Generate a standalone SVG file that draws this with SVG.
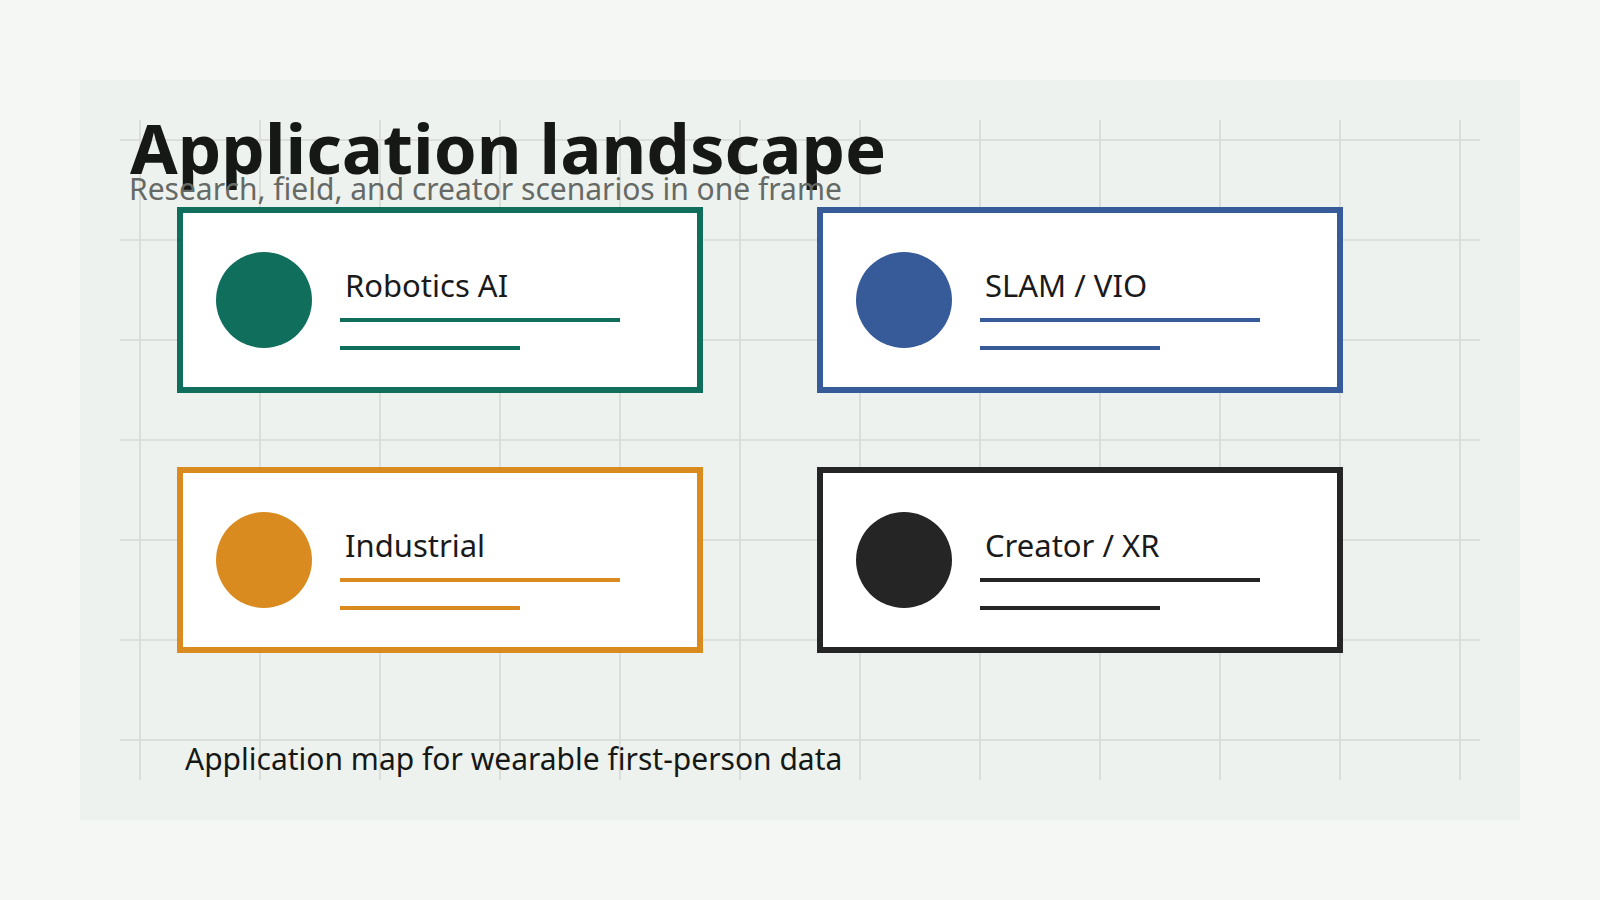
<svg xmlns="http://www.w3.org/2000/svg" width="1600" height="900" viewBox="0 0 1600 900">
  <defs>
    <style>
      .bg { fill: #f5f7f4; }
      .panel { fill: #eef2ee; }
      .grid line { stroke: #dcdedb; stroke-width: 2; }
      .card { fill: #ffffff; stroke-width: 6; }
      .bar { stroke-width: 4; }
      .label { font-family: "Noto Sans", "Open Sans", sans-serif; font-size: 31px; fill: #1a1a1a; }
      .title { font-family: "Noto Sans", "Open Sans", sans-serif; font-size: 69px; font-weight: 700; fill: #161816; }
      .subtitle { font-family: "Noto Sans", "Open Sans", sans-serif; font-size: 30px; fill: #666a66; }
      .footer { font-family: "Noto Sans", "Open Sans", sans-serif; font-size: 30px; fill: #161816; }
    </style>
  </defs>
  <rect class="bg" x="0" y="0" width="1600" height="900"/>
  <rect class="panel" x="80" y="80" width="1440" height="740"/>
  <g class="grid">
    <line x1="140" y1="120" x2="140" y2="780"/>
    <line x1="260" y1="120" x2="260" y2="780"/>
    <line x1="380" y1="120" x2="380" y2="780"/>
    <line x1="500" y1="120" x2="500" y2="780"/>
    <line x1="620" y1="120" x2="620" y2="780"/>
    <line x1="740" y1="120" x2="740" y2="780"/>
    <line x1="860" y1="120" x2="860" y2="780"/>
    <line x1="980" y1="120" x2="980" y2="780"/>
    <line x1="1100" y1="120" x2="1100" y2="780"/>
    <line x1="1220" y1="120" x2="1220" y2="780"/>
    <line x1="1340" y1="120" x2="1340" y2="780"/>
    <line x1="1460" y1="120" x2="1460" y2="780"/>
    <line x1="120" y1="140" x2="1480" y2="140"/>
    <line x1="120" y1="240" x2="1480" y2="240"/>
    <line x1="120" y1="340" x2="1480" y2="340"/>
    <line x1="120" y1="440" x2="1480" y2="440"/>
    <line x1="120" y1="540" x2="1480" y2="540"/>
    <line x1="120" y1="640" x2="1480" y2="640"/>
    <line x1="120" y1="740" x2="1480" y2="740"/>
  </g>
  <text class="title" x="130" y="174">Application landscape</text>
  <text class="subtitle" x="129" y="200">Research, field, and creator scenarios in one frame</text>
  <g id="connectors"></g>
  <g id="robotics-ai">
    <rect class="card" x="180" y="210" width="520" height="180" stroke="#0f6e5c"/>
    <circle cx="264" cy="300" r="48" fill="#0f6e5c"/>
    <text class="label" x="345" y="297">Robotics AI</text>
    <line class="bar" x1="340" y1="320" x2="620" y2="320" stroke="#0f6e5c"/>
    <line class="bar" x1="340" y1="348" x2="520" y2="348" stroke="#0f6e5c"/>
  </g>
  <g id="slam-vio">
    <rect class="card" x="820" y="210" width="520" height="180" stroke="#375a98"/>
    <circle cx="904" cy="300" r="48" fill="#375a98"/>
    <text class="label" x="985" y="297">SLAM / VIO</text>
    <line class="bar" x1="980" y1="320" x2="1260" y2="320" stroke="#375a98"/>
    <line class="bar" x1="980" y1="348" x2="1160" y2="348" stroke="#375a98"/>
  </g>
  <g id="industrial">
    <rect class="card" x="180" y="470" width="520" height="180" stroke="#da8b1f"/>
    <circle cx="264" cy="560" r="48" fill="#da8b1f"/>
    <text class="label" x="345" y="557">Industrial</text>
    <line class="bar" x1="340" y1="580" x2="620" y2="580" stroke="#da8b1f"/>
    <line class="bar" x1="340" y1="608" x2="520" y2="608" stroke="#da8b1f"/>
  </g>
  <g id="creator-xr">
    <rect class="card" x="820" y="470" width="520" height="180" stroke="#252525"/>
    <circle cx="904" cy="560" r="48" fill="#252525"/>
    <text class="label" x="985" y="557">Creator / XR</text>
    <line class="bar" x1="980" y1="580" x2="1260" y2="580" stroke="#252525"/>
    <line class="bar" x1="980" y1="608" x2="1160" y2="608" stroke="#252525"/>
  </g>
  <text class="footer" x="185" y="770">Application map for wearable first-person data</text>
</svg>
